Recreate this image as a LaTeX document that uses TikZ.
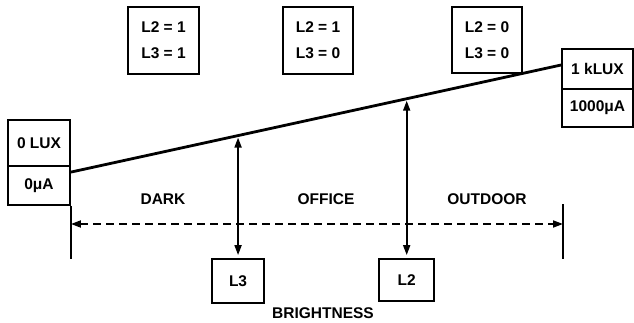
\documentclass[tikz,border=0pt]{standalone}
\usepackage{fontspec}
\setmainfont{Liberation Sans}
\usetikzlibrary{arrows.meta,calc}
\begin{document}
\begin{tikzpicture}[x=1pt,y=-1pt,
  lbl/.style={font=\fontsize{15.5}{26}\selectfont\bfseries, inner sep=0pt},
  box/.style={lbl, draw, line width=1.8pt, align=center},
  thin/.style={line width=1.8pt},
  tipb/.style={{Triangle[length=10pt,width=7pt]}-{Triangle[length=10pt,width=7pt]}},
  dashline/.style={line width=1.8pt, dash pattern=on 8pt off 5pt}]
\useasboundingbox (0,0) rectangle (634,323);
% state boxes
\node[box, minimum width=71pt, minimum height=67pt] (s11) at (163.5,40.5) {L2 = 1\\L3 = 1};
\node[box, minimum width=70pt, minimum height=67pt] (s10) at (318,40.5) {L2 = 1\\L3 = 0};
\node[box, minimum width=70pt, minimum height=66pt] (s00) at (487,40) {L2 = 0\\L3 = 0};
% end boxes
\node[box, minimum width=62pt, minimum height=46pt] (lux0) at (39,143) {0 LUX};
\node[box, minimum width=62pt, minimum height=39pt] (ua0) at (39,185.5) {0μA};
\node[box, minimum width=71pt, minimum height=40pt] (klux) at (597.5,69) {1 kLUX};
\node[box, minimum width=71pt, minimum height=38pt] (ua1) at (597.5,108) {1000μA};
% response line
\coordinate (ls) at ([yshift=-7pt]ua0.north east);
\coordinate (le) at ([yshift=4pt]klux.west);
\draw[line width=2.8pt] (ls) -- (le);
% threshold points
\coordinate (p3) at ($(ls)!0.341!(le)$);
\coordinate (p2) at ($(ls)!0.685!(le)$);
\node[box, minimum width=52pt, minimum height=44pt] (L3) at (p3 |- 0,281) {L3};
\node[box, minimum width=55pt, minimum height=42pt] (L2) at (p2 |- 0,280) {L2};
\draw[thin, tipb, shorten <=2pt] (p3) -- ([yshift=3pt]L3.north);
\draw[thin, tipb, shorten <=2pt] (p2) -- ([yshift=3pt]L2.north);
% range ticks
\coordinate (tlb) at (ua0.south east |- 0,259);
\coordinate (trt) at (563,204);
\coordinate (trb) at (563,259);
\draw[thin] (ua0.south east) -- (tlb);
\draw[thin] (trt) -- (trb);
\coordinate (dl) at (ua0.south east |- 0,224);
\coordinate (dr) at (trt |- 0,224);
\draw[dashline, tipb] (dl) -- (dr);
% labels
\node[lbl] (dark) at (163,199) {DARK};
\node[lbl] (office) at (326,199) {OFFICE};
\node[lbl] (outdoor) at (487,199) {OUTDOOR};
\node[lbl] (bright) at (323,313) {BRIGHTNESS};
\end{tikzpicture}
\end{document}
